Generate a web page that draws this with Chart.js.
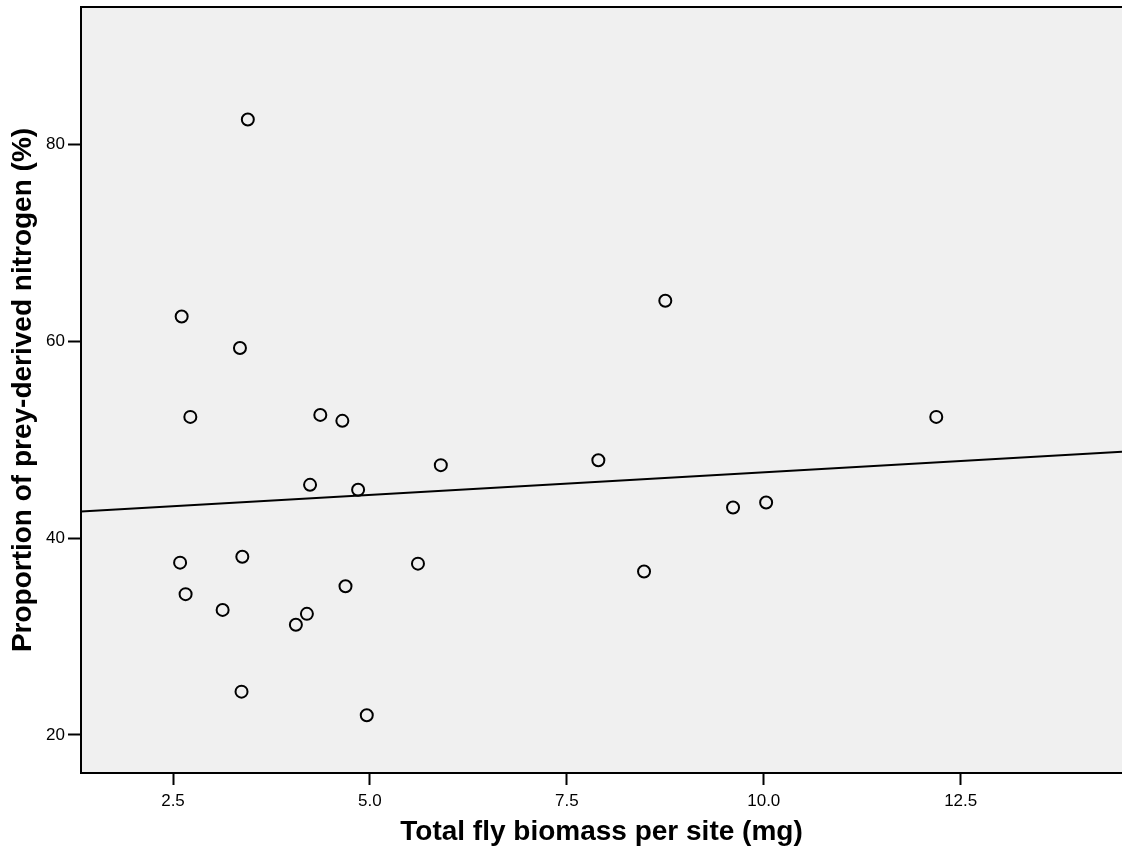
<!DOCTYPE html>
<html>
<head>
<meta charset="utf-8">
<script src="https://cdn.jsdelivr.net/npm/chart.js@4.4.1/dist/chart.umd.min.js"></script>
<style>
  html, body { margin: 0; padding: 0; background: #ffffff; }
  #wrap { width: 1122px; height: 850px; }
</style>
</head>
<body>
<div id="wrap"><canvas id="c" width="1122" height="850"></canvas></div>
<script>
// ---- data ----
const biomassMg = [3.45, 2.61, 3.35, 2.72, 4.37, 4.65, 8.75, 12.19, 4.24, 4.85, 5.90, 7.90, 9.61, 10.03,
                   2.59, 3.38, 5.61, 2.66, 4.69, 8.48, 3.13, 4.20, 4.06, 3.37, 4.96];
const preyNitrogenPct = [82.5, 62.5, 59.3, 52.3, 52.5, 51.9, 64.1, 52.3, 45.4, 44.9, 47.4, 47.9, 43.1, 43.6,
                   37.5, 38.1, 37.4, 34.3, 35.1, 36.6, 32.7, 32.3, 31.2, 24.4, 22.0];
// fitted line, read at the two edges of the plot
const fitX = [1.332, 14.548];
const fitY = [42.68, 48.75];
// axes
const xTicks = [2.5, 5.0, 7.5, 10.0, 12.5];
const yTicks = [20, 40, 60, 80];
const xRange = [1.332, 14.548];
const yRange = [16.14, 93.92];
const xTitle = 'Total fly biomass per site (mg)';
const yTitle = 'Proportion of prey-derived nitrogen (%)';

const points = biomassMg.map((x, i) => ({ x: x, y: preyNitrogenPct[i] }));
const fitLine = fitX.map((x, i) => ({ x: x, y: fitY[i] }));

const plotBg = {
  id: 'plotBg',
  beforeDraw(chart) {
    const { ctx, chartArea: a } = chart;
    ctx.save();
    ctx.fillStyle = '#f0f0f0';
    ctx.fillRect(a.left, a.top, a.right - a.left, a.bottom - a.top);
    ctx.restore();
  },
  afterDraw(chart) {
    const { ctx, chartArea: a } = chart;
    ctx.save();
    ctx.strokeStyle = '#000';
    ctx.lineWidth = 2;
    ctx.beginPath();
    ctx.moveTo(a.left - 1, a.top);
    ctx.lineTo(a.right, a.top);
    ctx.stroke();
    ctx.restore();
  }
};

const tickFont = { family: '"Liberation Sans", Arial, sans-serif', size: 17 };
const titleFont = { family: '"Liberation Sans", Arial, sans-serif', size: 28, weight: 'bold' };

new Chart(document.getElementById('c'), {
  type: 'scatter',
  data: {
    datasets: [
      {
        type: 'line',
        data: fitLine,
        borderColor: '#000',
        borderWidth: 2,
        pointRadius: 0,
        fill: false,
        order: 2
      },
      {
        data: points,
        pointRadius: 6,
        pointHoverRadius: 6,
        pointBorderWidth: 2,
        pointBorderColor: '#000',
        pointBackgroundColor: 'rgba(0,0,0,0)',
        showLine: false,
        order: 1
      }
    ]
  },
  plugins: [plotBg],
  options: {
    responsive: false,
    animation: false,
    events: [],
    layout: { autoPadding: false, padding: { top: 7, right: 0, left: 0, bottom: 0 } },
    plugins: { legend: { display: false }, tooltip: { enabled: false } },
    scales: {
      x: {
        type: 'linear',
        min: xRange[0],
        max: xRange[1],
        afterBuildTicks: s => { s.ticks = xTicks.map(v => ({ value: v })); },
        afterFit: s => { s.height = 77; s.paddingLeft = 0; s.paddingRight = 0; },
        ticks: {
          color: '#000',
          font: tickFont,
          padding: 6,
          maxRotation: 0,
          callback: v => Number(v).toFixed(1)
        },
        grid: { drawOnChartArea: false, drawTicks: true, tickLength: 12, tickWidth: 2, tickColor: '#000' },
        border: { display: true, color: '#000', width: 2 },
        title: { display: true, text: xTitle, color: '#000', font: titleFont, padding: { top: 0, bottom: 1 } }
      },
      y: {
        type: 'linear',
        min: yRange[0],
        max: yRange[1],
        afterBuildTicks: s => { s.ticks = yTicks.map(v => ({ value: v })); },
        afterFit: s => { s.width = 81; s.paddingTop = 0; s.paddingBottom = 0; },
        ticks: {
          color: '#000',
          font: tickFont,
          padding: 3,
          callback: v => String(v)
        },
        grid: { drawOnChartArea: false, drawTicks: true, tickLength: 13, tickWidth: 2, tickColor: '#000' },
        border: { display: true, color: '#000', width: 2 },
        title: { display: true, text: yTitle, color: '#000', font: titleFont, padding: { top: 6, bottom: 0 } }
      }
    }
  }
});
</script>
</body>
</html>
